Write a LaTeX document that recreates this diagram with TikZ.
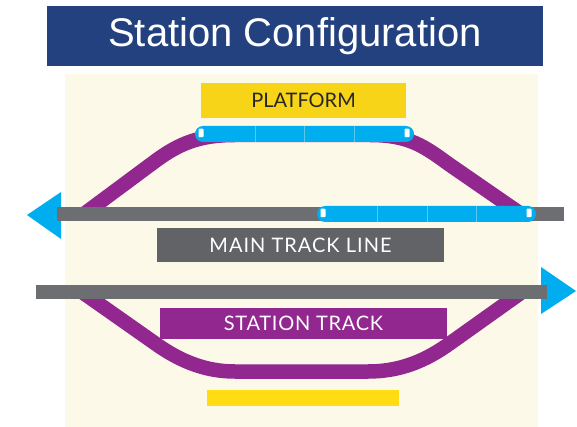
\documentclass[tikz,border=0pt]{standalone}
\usepackage{fontspec}
\setmainfont{Liberation Sans}
\newfontfamily\labelfont{Lato}
\definecolor{titleblue}{HTML}{24417F}
\definecolor{cream}{HTML}{FDF9E8}
\definecolor{platyellow}{HTML}{F7D417}
\definecolor{yellowb}{HTML}{FFDD12}
\definecolor{trackgray}{HTML}{6D6E71}
\definecolor{labelgray}{HTML}{626366}
\definecolor{trackpurple}{HTML}{92278F}
\definecolor{trainblue}{HTML}{00AEEF}
\tikzset{
  block/.style={anchor=north west,inner sep=0pt,outer sep=0pt,draw=none,align=center},
  blocklabel/.style={font=\labelfont\fontsize{20}{20}\selectfont},
  trainbody/.style={block,fill=trainblue,rounded corners=8pt},
  trainwindow/.style={fill=white,inner sep=0pt,minimum width=5pt,minimum height=8.5pt,rounded corners=.8pt},
  trainjoint/.style={draw=cream!35!trainblue,line width=.5pt},
  siding/.style={draw=trackpurple,line width=14.5pt,line cap=butt},
  arrowhead/.style={fill=trainblue},
}
\begin{document}
\begin{tikzpicture}[x=1pt,y=-1pt]
\useasboundingbox (0,0) rectangle (577,427);
\node[block,fill=cream,minimum width=473pt,minimum height=353pt] (panel) at (65,74) {};
\node[block,fill=titleblue,minimum width=496pt,minimum height=60pt,text=white,font=\fontsize{40}{42}\selectfont] (title) at (47,6) {Station Configuration};
\node[block,fill=platyellow,minimum width=205pt,minimum height=35pt,text=black!85,blocklabel] (platform) at (201,83) {PLATFORM};
\node[block,fill=labelgray,minimum width=287pt,minimum height=34pt,text=white,blocklabel] (mainlabel) at (157,228) {\addfontfeature{LetterSpace=5}MAIN TRACK LINE};
% sidings
\coordinate (ua) at (84,214);
\coordinate (ub) at (150,165);
\coordinate (uc) at (235,135);
\coordinate (ud) at (370,135);
\coordinate (ue) at (450,165);
\coordinate (uf) at (521,214);
\draw[siding] (ua) -- (ub) .. controls (175,146) and (195,135) .. (uc) -- (ud) .. controls (410,135) and (425,147) .. (ue) -- (uf);
\coordinate (la) at (82,292);
\coordinate (lb) at (156,344);
\coordinate (lc) at (235,371.5);
\coordinate (ld) at (368,371.5);
\coordinate (le) at (449,344);
\coordinate (lf) at (522,292);
\draw[siding] (la) -- (lb) .. controls (180,361) and (205,371.5) .. (lc) -- (ld) .. controls (400,371.5) and (425,361) .. (le) -- (lf);
\node[block,fill=trackpurple,minimum width=287pt,minimum height=31pt,text=white,blocklabel] (stationlabel) at (160,308) {\addfontfeature{LetterSpace=3.6}STATION TRACK};
\node[block,fill=yellowb,minimum width=192pt,minimum height=16pt] (lowerplatform) at (207,390) {};
% arrowheads
\fill[arrowhead] (27,215) -- (61,192) -- (61,239) -- cycle;
\fill[arrowhead] (576,291) -- (541,267) -- (541,314) -- cycle;
% tracks
\node[block,fill=trackgray,minimum width=507pt,minimum height=14pt] (maintrack) at (57,207) {};
\node[block,fill=trackgray,minimum width=511pt,minimum height=14pt] (stationtrack) at (36,285) {};
% trains
\node[trainbody,minimum width=219pt,minimum height=16pt] (trainup) at (195,126) {};
\node[trainbody,minimum width=219pt,minimum height=16pt] (trainlow) at (317,206) {};
\foreach \x in {255,304,354} \draw[trainjoint] (\x,126) -- (\x,142);
\foreach \x in {377,427,476} \draw[trainjoint] (\x,206) -- (\x,222);
\foreach \x/\y in {201/133,407/133,323/213,529/213} \node[trainwindow] at (\x,\y) {};
\end{tikzpicture}
\end{document}
